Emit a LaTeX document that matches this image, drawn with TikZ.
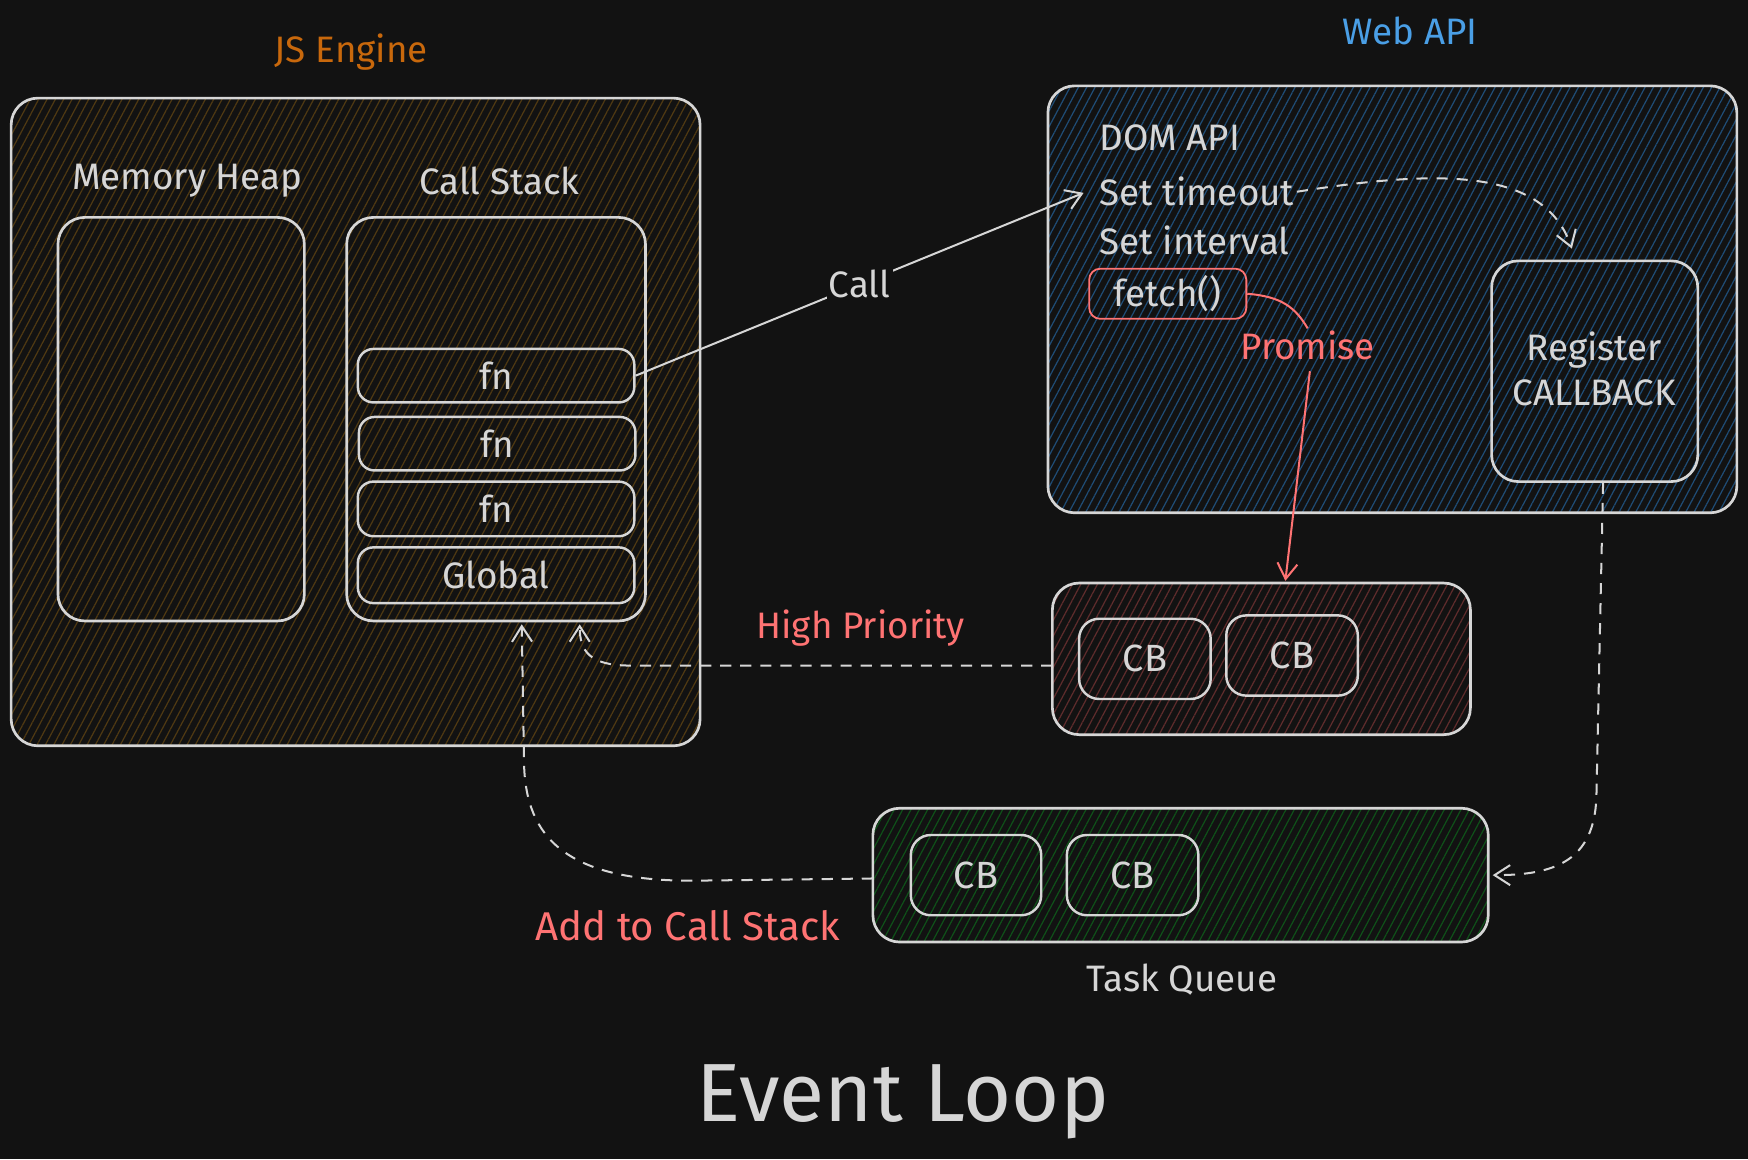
\documentclass[tikz,border=0pt]{standalone}
\usepackage{fontspec}
\setmainfont{Fira Sans}
\usetikzlibrary{arrows.meta,patterns.meta,fit}
\definecolor{bgc}{HTML}{121212}
\definecolor{strk}{HTML}{D6D6D6}
\definecolor{jsorange}{HTML}{C8680C}
\definecolor{webblue}{HTML}{4A9FE6}
\definecolor{redt}{HTML}{FF7373}
\definecolor{hbrown}{HTML}{4F3912}
\definecolor{hblue}{HTML}{1F4C75}
\definecolor{hred}{HTML}{5E2C2C}
\definecolor{hgreen}{HTML}{0F5019}
\tikzset{
  box/.style={draw=strk, line width=1.2pt, rounded corners=12pt, inner sep=0pt},
  smallbox/.style={draw=strk, line width=1.1pt, rounded corners=7pt, inner sep=0pt},
  hatch/.style={pattern={Lines[angle=62,distance=3.3pt,line width=0.55pt]}, pattern color=#1},
  lbl/.style={font=\fontsize{16.5}{20}\selectfont, inner sep=1pt},
  txt/.style={lbl, text=strk},
  cbtxt/.style={text=strk, font=\fontsize{17}{20}\selectfont, inner sep=1pt},
  conn/.style={draw=strk, line width=0.9pt},
  dconn/.style={draw=strk, line width=0.9pt, dash pattern=on 5pt off 4pt},
  tip/.style={-{Straight Barb[length=7pt,width=9pt,line width=0.9pt]}},
}
\begin{document}
\begin{tikzpicture}[x=0.5pt,y=-0.5pt]
\fill[bgc] (0,0) rectangle (1568,1040);
\useasboundingbox (0,0) rectangle (1568,1040);

% ---------- JS Engine ----------
\node[lbl, text=jsorange] (jstitle) at (315,47) {JS Engine};
\node[box, hatch=hbrown, fit={(10,88) (628,669)}] (js) {};
\node[txt] (mhlabel) at (168,162) {Memory Heap};
\node[txt] (cslabel) at (448,162) {Call Stack};
\node[box, fit={(52,195) (273,557)}] (heap) {};
\node[box, fit={(311,195) (579,557)}] (stack) {};
\node[smallbox, fit={(321,313) (569,361)}] (fn1) {};
\node[txt] at (fn1) {fn};
\node[smallbox, fit={(322,374) (570,422)}] (fn2) {};
\node[txt] at (fn2) {fn};
\node[smallbox, fit={(321,432) (569,481)}] (fn3) {};
\node[txt] at (fn3) {fn};
\node[smallbox, fit={(321,491) (569,541)}] (glob) {};
\node[txt] at (glob) {Global};

% ---------- Web API ----------
\node[lbl, text=webblue] (webtitle) at (1265,28) {Web API};
\node[box, hatch=hblue, fit={(940,77) (1558,460)}] (web) {};
\node[txt, anchor=west] (dom) at (984,124) {DOM API};
\node[txt, anchor=west] (stime) at (984,172) {Set timeout};
\node[txt, anchor=west] (sint) at (984,216) {Set interval};
\node[draw=redt, line width=0.8pt, rounded corners=5pt, inner sep=0pt, fit={(977,241) (1118,286)}] (fetch) {};
\node[txt] at (fetch) {fetch()};
\node[lbl, text=redt] (promise) at (1173,310) {Promise};
\node[box, fit={(1338,234) (1523,432)}] (reg) {};
\node[txt, align=center, font=\fontsize{16.5}{20}\selectfont] (regtxt) at (1430,331) {Register\\CALLBACK};

% ---------- High priority queue ----------
\node[box, hatch=hred, fit={(944,523) (1319,659)}] (hp) {};
\node[smallbox, rounded corners=9pt, fit={(968,555) (1086,627)}] (hcb1) {};
\node[cbtxt] at (hcb1) {CB};
\node[smallbox, rounded corners=9pt, fit={(1100,552) (1218,624)}] (hcb2) {};
\node[cbtxt] at (hcb2) {CB};
\node[lbl, text=redt] (hplabel) at (772,563) {High Priority};

% ---------- Task queue ----------
\node[box, hatch=hgreen, fit={(783,725) (1335,845)}] (tq) {};
\node[smallbox, rounded corners=9pt, fit={(817,749) (934,821)}] (tcb1) {};
\node[cbtxt] at (tcb1) {CB};
\node[smallbox, rounded corners=9pt, fit={(957,749) (1075,821)}] (tcb2) {};
\node[cbtxt] at (tcb2) {CB};
\node[txt] (tqlabel) at (1060,879) {Task Queue};
\node[lbl, text=redt, font=\fontsize{18}{20}\selectfont] (addlabel) at (617,830) {Add to Call Stack};

% ---------- Title ----------
\node[text=strk, font=\fontsize{37}{42}\selectfont] (title) at (810,988) {Event Loop};

% ---------- Connectors ----------
\coordinate (callend) at (972,173);
\draw[conn, tip] (fn1.east) -- node[fill=bgc, txt, pos=0.5] (calllbl) {Call} (callend);

\coordinate (regtop) at (1410,223);
\draw[dconn, tip] (stime.east) .. controls (1290,152) and (1385,150) .. (regtop);

\draw[draw=redt, line width=0.9pt] (fetch.east) .. controls (1150,266) and (1162,276) .. (promise.north);
\coordinate (hptop) at (1153,521);
\draw[draw=redt, line width=0.9pt, tip] (1175,333) -- (hptop);

\coordinate (hpw) at (944,597);
\coordinate (stk1) at (520,560);
\draw[dconn, tip] (hpw) -- (565,597) .. controls (530,597) and (520,585) .. (stk1);

\coordinate (regbot) at (1438,433);
\coordinate (tqr) at (1339,785);
\draw[dconn, tip] (regbot) -- (1432,715) .. controls (1430,772) and (1395,785) .. (tqr);

\coordinate (tqw) at (783,788);
\coordinate (stk2) at (468,560);
\draw[dconn, tip] (tqw) -- (620,790) .. controls (500,790) and (470,745) .. (470,680) -- (stk2);
\end{tikzpicture}
\end{document}
